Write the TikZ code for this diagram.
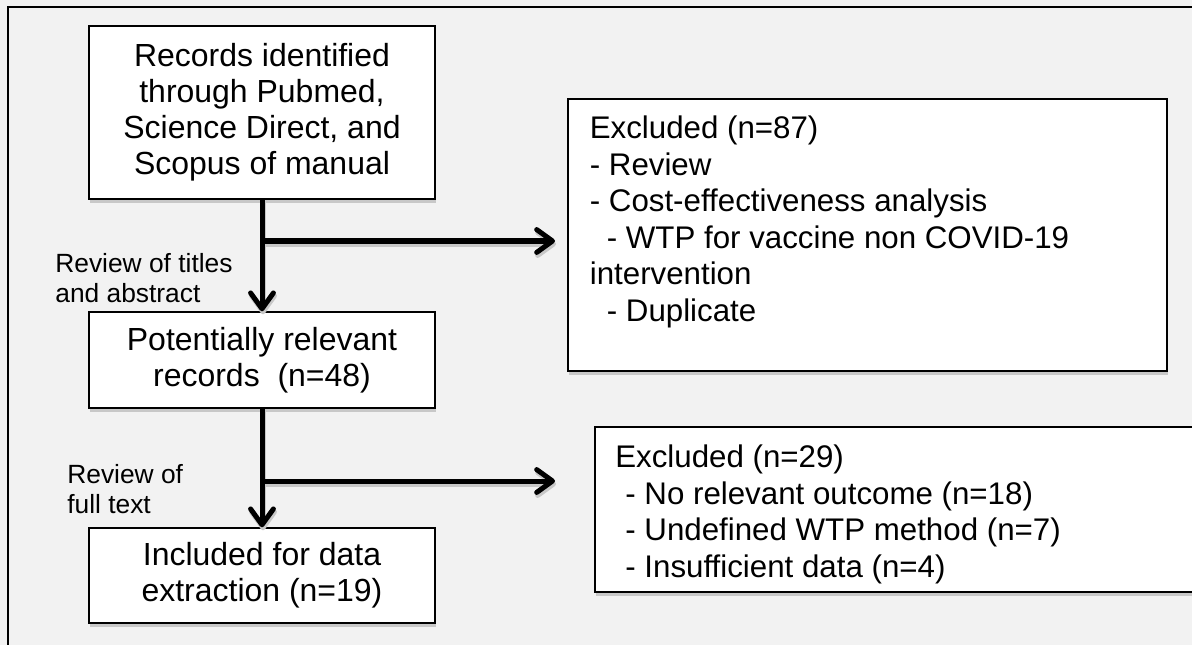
\documentclass[tikz,border=0pt]{standalone}
\usepackage{fontspec}
\setmainfont{Liberation Sans}
\usetikzlibrary{arrows.meta,shadows}

\definecolor{bgcol}{HTML}{F2F2F2}
\definecolor{shcol}{HTML}{C8C8C8}

\tikzset{
	box/.style={draw, fill=white, line width=0.85pt, inner sep=0pt, align=center,
		minimum width=6.92cm, font=\fontsize{18.2}{20.5}\selectfont,
		drop shadow={shadow xshift=0.02cm, shadow yshift=-0.08cm, fill=shcol, opacity=1}},
	exbox/.style={draw, fill=white, line width=0.85pt, inner sep=0pt,
		drop shadow={shadow xshift=0.02cm, shadow yshift=-0.08cm, fill=shcol, opacity=1}},
	listtext/.style={anchor=north west, inner sep=0pt, align=left, font=\fontsize{17.8}{20.8}\selectfont},
	steplabel/.style={anchor=north west, inner sep=0pt, align=left, font=\fontsize{15}{17}\selectfont},
	arrowline/.style={line width=2.85pt, -{Straight Barb[round, length=9pt, width=13pt]}},
	arrowshadow/.style={arrowline, draw=shcol, transform canvas={shift={(0.02cm,-0.06cm)}}}
}

\begin{document}
\begin{tikzpicture}[x=0.02cm, y=-0.02cm]
	\fill[bgcol] (0,0) rectangle (1192,645);
	\useasboundingbox (0,0) rectangle (1192,645);
	\clip (0,0) rectangle (1192,645);
	% frame
	\draw[line width=1.1pt] (1192,7) -- (8,7) -- (8,645);

	% left column
	\node[box, minimum height=3.46cm] (rec) at (262,112.5)
		{Records identified\\through Pubmed,\\Science Direct, and\\Scopus of manual};
	\node[box, minimum height=1.92cm] (pot) at (262,360)
		{Potentially relevant\\records~~(n=48)};
	\node[box, minimum height=1.9cm] (inc) at (262,575.5)
		{Included for data\\extraction (n=19)};

	% right column
	\node[exbox, minimum width=11.98cm, minimum height=5.44cm] (ex1) at (867.5,235) {};
	\node[listtext] (ex1txt) at (589.5,115.5)
		{Excluded (n=87)\\- Review\\- Cost-effectiveness analysis\\
		\hspace*{0.34cm}- WTP for vaccine non COVID-19\\intervention\\\hspace*{0.34cm}- Duplicate};
	\node[exbox, minimum width=12.5cm, minimum height=3.3cm] (ex2) at (907.5,509.5) {};
	\node[listtext] (ex2txt) at (615,444.5)
		{Excluded (n=29)\\\hspace*{0.2cm}- No relevant outcome (n=18)\\
		\hspace*{0.2cm}- Undefined WTP method (n=7)\\\hspace*{0.2cm}- Insufficient data (n=4)};

	% labels
	\node[steplabel] (lab1) at (55,253) {Review of titles\\and abstract};
	\node[steplabel] (lab2) at (67,464) {Review of\\full text};

	% connectors
	\coordinate (j1) at (262,241);
	\coordinate (t1) at (555,241);
	\coordinate (j2) at (262,481);
	\coordinate (t2) at (555,481);
	\draw[arrowshadow] (rec.south) -- (pot.north);
	\draw[arrowshadow] (j1) -- (t1);
	\draw[arrowshadow] (pot.south) -- (inc.north);
	\draw[arrowshadow] (j2) -- (t2);
	\draw[arrowline] (rec.south) -- (pot.north);
	\draw[arrowline] (j1) -- (t1);
	\draw[arrowline] (pot.south) -- (inc.north);
	\draw[arrowline] (j2) -- (t2);
\end{tikzpicture}
\end{document}
